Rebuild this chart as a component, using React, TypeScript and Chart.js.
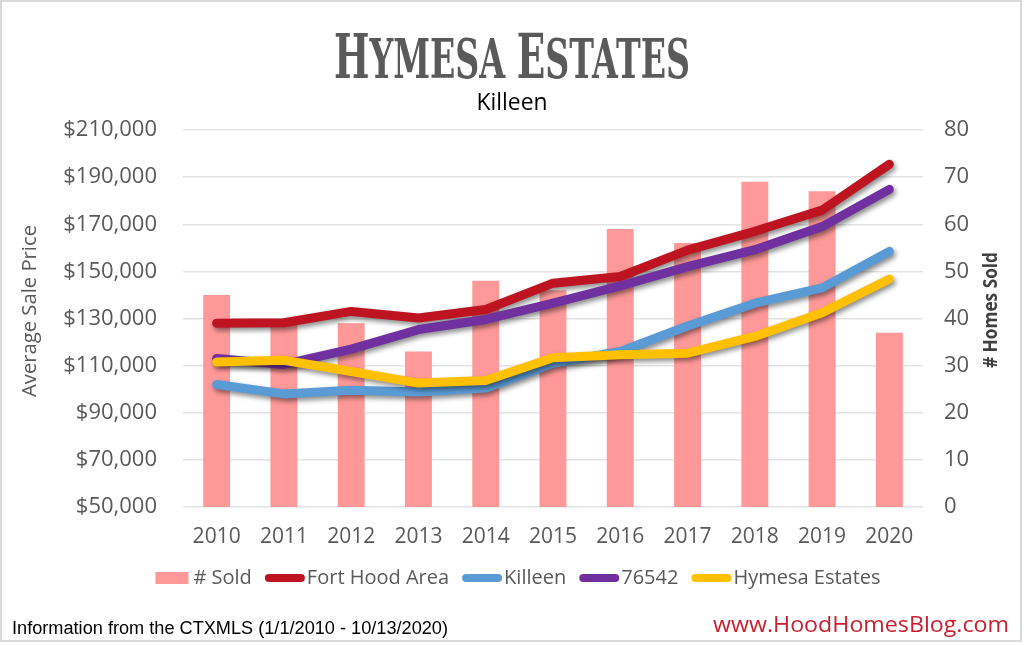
import React, { useEffect, useRef } from "react";
import { Chart, registerables } from "chart.js";

Chart.register(...registerables);

// ---------- data ----------
const years = ["2010", "2011", "2012", "2013", "2014", "2015", "2016", "2017", "2018", "2019", "2020"];
const homesSold = [45, 39, 39, 33, 48, 46, 59, 56, 69, 67, 37];
const fortHoodArea = [128000, 128200, 133000, 130200, 133800, 145000, 147800, 159000, 167000, 176000, 195500];
const killeen = [102000, 98000, 99500, 98800, 100500, 111000, 116000, 126800, 136500, 143000, 158500];
const zip76542 = [113000, 110500, 117000, 125300, 129600, 136500, 143800, 152000, 159200, 169000, 184800];
const hymesaEstates = [111500, 112300, 107500, 102600, 103700, 113300, 114600, 115300, 122400, 132400, 146800];

const priceMin = 50000;
const priceMax = 210000;
const priceStep = 20000;
const soldMin = 0;
const soldMax = 80;
const soldStep = 10;

const titleText = "Hymesa Estates";
const subtitleText = "Killeen";
const leftAxisTitle = "Average Sale Price";
const rightAxisTitle = "# Homes Sold";
const footerLeft = "Information from the CTXMLS (1/1/2010 - 10/13/2020)";
const footerRight = "www.HoodHomesBlog.com";

const seriesLabels = ["# Sold", "Fort Hood Area", "Killeen", "76542", "Hymesa Estates"];
const seriesColors = ["#FF9999", "#BE1422", "#5B9BD5", "#7030A0", "#FFC000"];

const SANS = '"Open Sans", "DejaVu Sans", sans-serif';
const GRAY = "#595959";

function drawFit(ctx: CanvasRenderingContext2D, text: string, x: number, y: number, width: number, align: "left" | "right" | "center") {
  const w = ctx.measureText(text).width;
  const s = width / w;
  ctx.save();
  let left = x;
  if (align === "right") left = x - width;
  if (align === "center") left = x - width / 2;
  ctx.translate(left, y);
  ctx.scale(s, 1);
  ctx.textAlign = "left";
  ctx.fillText(text, 0, 0);
  ctx.restore();
}

const shadowPlugin = {
  id: "lineShadow",
  beforeDatasetDraw(chart: any, args: any) {
    const ds = chart.data.datasets[args.index];
    if (ds.type === "line") {
      const ctx = chart.ctx;
      ctx.save();
      ctx.shadowColor = "rgba(0,0,0,0.45)";
      ctx.shadowBlur = 5;
      ctx.shadowOffsetX = 2;
      ctx.shadowOffsetY = 3;
    }
  },
  afterDatasetDraw(chart: any, args: any) {
    const ds = chart.data.datasets[args.index];
    if (ds.type === "line") chart.ctx.restore();
  },
};

const decorPlugin = {
  id: "decor",
  afterDraw(chart: any) {
    const ctx: CanvasRenderingContext2D = chart.ctx;
    ctx.save();

    // outer border
    ctx.strokeStyle = "#D9D9D9";
    ctx.lineWidth = 2;
    ctx.strokeRect(1, 1, 1020, 640);

    // title: initial letters larger, rest small caps
    const big = 62;
    const small = 55;
    const fam = '"DejaVu Serif Condensed", "DejaVu Serif", serif';
    const parts: { t: string; size: number }[] = [];
    titleText.split(" ").forEach((word, i) => {
      if (i > 0) parts.push({ t: " ", size: small });
      parts.push({ t: word.charAt(0).toUpperCase(), size: big });
      parts.push({ t: word.slice(1).toUpperCase(), size: small });
    });
    let total = 0;
    parts.forEach((p) => {
      ctx.font = `bold ${p.size}px ${fam}`;
      total += ctx.measureText(p.t).width;
    });
    const targetW = 356;
    const sx = targetW / total;
    ctx.save();
    ctx.translate(512 - targetW / 2, 78);
    ctx.scale(sx, 1);
    ctx.fillStyle = "#5A5A5A";
    ctx.textBaseline = "alphabetic";
    ctx.textAlign = "left";
    let cx = 0;
    parts.forEach((p) => {
      ctx.font = `bold ${p.size}px ${fam}`;
      ctx.fillText(p.t, cx, 0);
      cx += ctx.measureText(p.t).width;
    });
    ctx.restore();

    // subtitle
    ctx.fillStyle = "#000000";
    ctx.font = `23px ${SANS}`;
    ctx.textBaseline = "alphabetic";
    drawFit(ctx, subtitleText, 512, 110, 71, "center");

    // axis titles
    ctx.save();
    ctx.translate(30, 311);
    ctx.rotate(-Math.PI / 2);
    ctx.fillStyle = GRAY;
    ctx.font = `20px ${SANS}`;
    ctx.textBaseline = "middle";
    drawFit(ctx, leftAxisTitle, 0, 0, 172, "center");
    ctx.restore();

    ctx.save();
    ctx.translate(992, 310);
    ctx.rotate(-Math.PI / 2);
    ctx.fillStyle = "#404040";
    ctx.font = `bold 19px ${SANS}`;
    ctx.textBaseline = "middle";
    drawFit(ctx, rightAxisTitle, 0, 0, 116, "center");
    ctx.restore();

    // legend
    ctx.font = `20px ${SANS}`;
    ctx.textBaseline = "middle";
    const ly = 578;
    const items = seriesLabels.map((label, i) => {
      const isBar = i === 0;
      const symW = isBar ? 33 : 40;
      const gap = isBar ? 5 : 2;
      const tw = ctx.measureText(label).width;
      return { label, color: seriesColors[i], isBar, symW, gap, tw };
    });
    const itemGap = 13;
    let lw = 0;
    items.forEach((it, i) => {
      lw += it.symW + it.gap + it.tw + (i < items.length - 1 ? itemGap : 0);
    });
    let lx = 518 - lw / 2;
    items.forEach((it) => {
      if (it.isBar) {
        ctx.fillStyle = it.color;
        ctx.fillRect(lx, ly - 6, it.symW, 12);
      } else {
        ctx.strokeStyle = it.color;
        ctx.lineWidth = 8;
        ctx.lineCap = "round";
        ctx.beginPath();
        ctx.moveTo(lx + 4, ly);
        ctx.lineTo(lx + it.symW - 4, ly);
        ctx.stroke();
      }
      lx += it.symW + it.gap;
      ctx.fillStyle = GRAY;
      ctx.textAlign = "left";
      ctx.fillText(it.label, lx, ly);
      lx += it.tw + itemGap;
    });

    // footer
    ctx.textBaseline = "alphabetic";
    ctx.fillStyle = "#000000";
    ctx.font = `18px "Liberation Sans Narrow", "Liberation Sans", sans-serif`;
    drawFit(ctx, footerLeft, 12, 634, 436, "left");

    ctx.fillStyle = "#C8202F";
    ctx.font = `22px ${SANS}`;
    drawFit(ctx, footerRight, 1009, 632, 296, "right");

    ctx.restore();
  },
};

export default function App() {
  const ref = useRef<HTMLCanvasElement | null>(null);

  useEffect(() => {
    if (!ref.current) return;
    const lineDs = (label: string, data: number[], color: string, order: number) => ({
      type: "line" as const,
      label,
      data,
      yAxisID: "yPrice",
      borderColor: color,
      backgroundColor: color,
      borderWidth: 9,
      borderCapStyle: "round" as const,
      borderJoinStyle: "round" as const,
      pointRadius: 0,
      pointHoverRadius: 0,
      tension: 0,
      fill: false,
      order,
    });

    const chart = new Chart(ref.current, {
      data: {
        labels: years,
        datasets: [
          {
            type: "bar",
            label: seriesLabels[0],
            data: homesSold,
            yAxisID: "ySold",
            backgroundColor: seriesColors[0],
            borderWidth: 0,
            categoryPercentage: 1,
            barPercentage: 0.4,
            order: 10,
          },
          lineDs(seriesLabels[1], fortHoodArea, seriesColors[1], 4),
          lineDs(seriesLabels[2], killeen, seriesColors[2], 3),
          lineDs(seriesLabels[3], zip76542, seriesColors[3], 2),
          lineDs(seriesLabels[4], hymesaEstates, seriesColors[4], 1),
        ],
      } as any,
      options: {
        responsive: false,
        animation: false,
        layout: { padding: { top: 130, bottom: 98, left: 0, right: 0 } },
        plugins: {
          legend: { display: false },
          title: { display: false },
          tooltip: { enabled: false },
        },
        scales: {
          x: {
            grid: { display: false, drawTicks: false },
            border: { display: false },
            ticks: { color: GRAY, font: { family: SANS, size: 21 }, padding: 17, maxRotation: 0 },
            afterFit: (s: any) => {
              s.height = 40;
            },
          },
          yPrice: {
            position: "left",
            min: priceMin,
            max: priceMax,
            grid: { color: "#E3E3E3", lineWidth: 1.5, drawTicks: false },
            border: { display: false },
            ticks: {
              stepSize: priceStep,
              color: GRAY,
              font: { family: SANS, size: 22 },
              padding: 26,
              callback: (v: any) => "$" + Number(v).toLocaleString("en-US"),
            },
            afterFit: (s: any) => {
              s.width = 183;
            },
          },
          ySold: {
            position: "right",
            min: soldMin,
            max: soldMax,
            grid: { display: false, drawTicks: false },
            border: { display: false },
            ticks: { stepSize: soldStep, color: GRAY, font: { family: SANS, size: 22 }, padding: 21 },
            afterFit: (s: any) => {
              s.width = 101;
            },
          },
        },
      } as any,
      plugins: [shadowPlugin, decorPlugin],
    });
    return () => chart.destroy();
  }, []);

  return (
    <div style={{ position: "absolute", left: 0, top: 0, width: 1024, height: 645, background: "#fff" }}>
      <canvas ref={ref} width={1024} height={645} style={{ display: "block" }} />
    </div>
  );
}
